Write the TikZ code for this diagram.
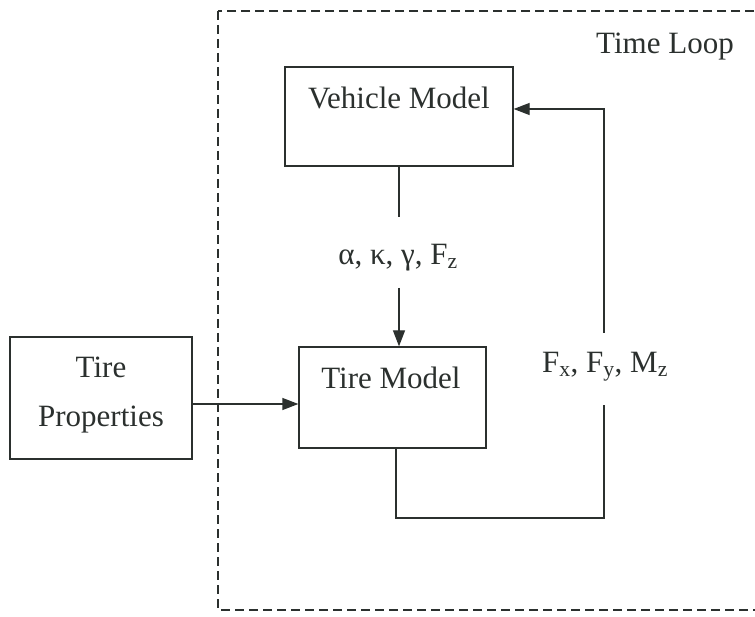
\documentclass[tikz,border=0pt]{standalone}
\usepackage{fontspec}
\setmainfont{Liberation Serif}
\usetikzlibrary{arrows.meta}
\definecolor{ink}{HTML}{2B302E}
\tikzset{
  blockbox/.style={draw=ink, line width=1.3pt, rectangle, inner sep=0pt},
  lbl/.style={text=ink, inner sep=0pt, font=\fontsize{31}{37}\selectfont},
  wire/.style={draw=ink, line width=1.3pt},
  arr/.style={wire, -{Triangle[length=16pt,width=12pt]}},
  loopframe/.style={draw=ink, line width=1.3pt, dash pattern=on 9pt off 5pt}
}
\begin{document}
\begin{tikzpicture}[x=1pt, y=-1pt]
  \clip (0,0) rectangle (755,617);
  \fill[white] (0,0) rectangle (755,617);

  % time loop frame (runs past the right edge)
  \draw[loopframe] (218,11) rectangle (790,610);
  \node[lbl] (timeloop) at (665,47) {Time Loop};

  % blocks
  \node[blockbox, minimum width=228pt, minimum height=99pt] (vm) at (399,116.5) {};
  \node[lbl] (vmtext) at (399,98) {Vehicle Model};

  \node[blockbox, minimum width=187pt, minimum height=101pt] (tm) at (392.5,397.5) {};
  \node[lbl] (tmtext) at (391,378) {Tire Model};

  \node[blockbox, minimum width=182pt, minimum height=122pt] (tp) at (101,398) {};
  \node[lbl] (tptext1) at (101,367) {Tire};
  \node[lbl] (tptext2) at (101,420) {Properties};

  % slip / load inputs from vehicle to tire
  \coordinate (s1) at (399,217);
  \coordinate (s2) at (399,288);
  \node[lbl] (slip) at (398,258) {α, κ, γ, F\textsubscript{z}};
  \draw[wire] (vm.south -| s1) -- (s1);
  \draw[arr] (s2) -- (s2 |- tm.north);

  % tire properties into tire model
  \coordinate (p1) at (0,404);
  \draw[arr] (tp.east |- p1) -- (tm.west |- p1);

  % force feedback to the vehicle model
  \coordinate (f0) at (396,518);
  \coordinate (f1) at (604,518);
  \coordinate (f2) at (604,405);
  \coordinate (f3) at (604,333);
  \coordinate (f4) at (604,109);
  \node[lbl] (forces) at (605,367) {F\textsubscript{x}, F\textsubscript{y}, M\textsubscript{z}};
  \draw[wire] (tm.south -| f0) -- (f0) -- (f1) -- (f2);
  \draw[arr] (f3) -- (f4) -- (vm.east |- f4);
\end{tikzpicture}
\end{document}
